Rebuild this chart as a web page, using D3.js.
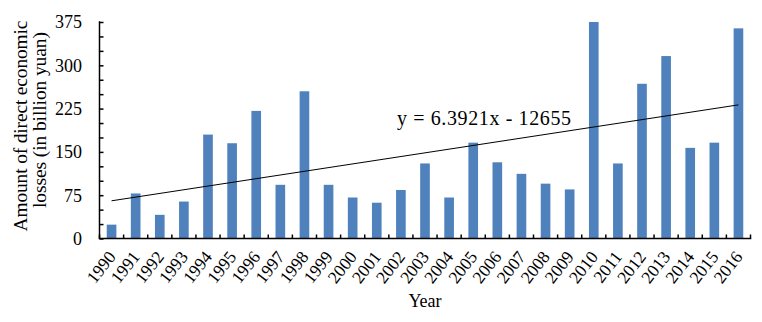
<!DOCTYPE html>
<html>
<head>
<meta charset="utf-8">
<script src="https://cdn.jsdelivr.net/npm/d3@7"></script>
<style>
  html, body { margin: 0; padding: 0; background: #fff; }
  svg { display: block; }
  text { font-family: "Liberation Serif", "Times New Roman", serif; fill: #000; }
</style>
</head>
<body>
<svg id="chart" width="762" height="322"></svg>
<script>
const years = [1990,1991,1992,1993,1994,1995,1996,1997,1998,1999,2000,2001,2002,2003,2004,2005,2006,2007,2008,2009,2010,2011,2012,2013,2014,2015,2016];
const losses = [24,78,41,64,180,165,221,93,255,93,71,62,84,130,71,166,132,112,95,85,375,130,268,316,157,166,364];
const yTicks = [0,75,150,225,300,375];
const trendSlope = 6.3921;
const trendIntercept = -12655;
const trendLabel = "y = 6.3921x - 12655";
const yTitleLines = ["Amount of direct economic", "losses (in billion yuan)"];
const xTitle = "Year";

const svg = d3.select("#chart");
const pLeft = 99.5, pRight = 750.5, pTop = 22, pBottom = 238.5;

const x = d3.scaleBand().domain(years).range([pLeft, pRight]).paddingInner(0.6).paddingOuter(0.3);
const y = d3.scaleLinear().domain([0, 375]).range([pBottom, pTop]);

// bars
svg.append("g").selectAll("rect").data(years).join("rect")
  .attr("x", d => x(d))
  .attr("width", x.bandwidth())
  .attr("y", (d, i) => y(losses[i]))
  .attr("height", (d, i) => y(0) - y(losses[i]))
  .attr("fill", "#4f81bd");

// trend line
const trendY = yr => trendSlope * yr + trendIntercept;
const first = years[0], last = years[years.length - 1];
svg.append("line")
  .attr("x1", x(first) + x.bandwidth() / 2).attr("y1", y(trendY(first)))
  .attr("x2", x(last) + x.bandwidth() / 2).attr("y2", y(trendY(last)))
  .attr("stroke", "#000").attr("stroke-width", 1);

svg.append("text")
  .attr("x", 397).attr("y", 125)
  .attr("font-size", 20)
  .attr("textLength", 174).attr("lengthAdjust", "spacing")
  .text(trendLabel);

// y axis
const yAxis = d3.axisRight(y).tickValues(d3.range(0, 376, 25)).tickSize(4).tickFormat("");
const gy = svg.append("g").attr("transform", `translate(${pLeft},0)`).call(yAxis);
gy.select(".domain").remove();
gy.selectAll(".tick line").attr("stroke", "#000").attr("stroke-width", 1.5);
svg.append("line").attr("x1", pLeft).attr("x2", pLeft).attr("y1", pTop - 0.75).attr("y2", pBottom)
  .attr("stroke", "#000").attr("stroke-width", 1.5);

svg.append("g").selectAll("text").data(yTicks).join("text")
  .attr("x", 82).attr("y", d => y(d)).attr("dy", "0.35em")
  .attr("text-anchor", "end").attr("font-size", 18)
  .text(d => d);

// x axis
svg.append("line").attr("x1", pLeft - 0.75).attr("x2", pRight + 0.75).attr("y1", pBottom).attr("y2", pBottom)
  .attr("stroke", "#000").attr("stroke-width", 1.5);
const step = x.step();
const bounds = years.map(d => x(d) + x.bandwidth() / 2 - step / 2).concat([x(last) + x.bandwidth() / 2 + step / 2]);
svg.append("g").selectAll("line").data(bounds).join("line")
  .attr("x1", d => d).attr("x2", d => d).attr("y1", pBottom).attr("y2", pBottom - 4)
  .attr("stroke", "#000").attr("stroke-width", 1.5);

svg.append("g").selectAll("text").data(years).join("text")
  .attr("transform", d => `translate(${x(d) + x.bandwidth() / 2 + 5},${257}) rotate(-52)`)
  .attr("text-anchor", "end").attr("font-size", 17.5)
  .text(d => d);

svg.append("text").attr("x", 425).attr("y", 307).attr("text-anchor", "middle")
  .attr("font-size", 18).text(xTitle);

// y title
svg.append("text").attr("transform", "translate(26.5,126) rotate(-90)")
  .attr("text-anchor", "middle").attr("font-size", 19.5)
  .attr("textLength", 211).attr("lengthAdjust", "spacing").text(yTitleLines[0]);
svg.append("text").attr("transform", "translate(46,120) rotate(-90)")
  .attr("text-anchor", "middle").attr("font-size", 19.5)
  .attr("textLength", 176).attr("lengthAdjust", "spacing").text(yTitleLines[1]);
</script>
</body>
</html>
